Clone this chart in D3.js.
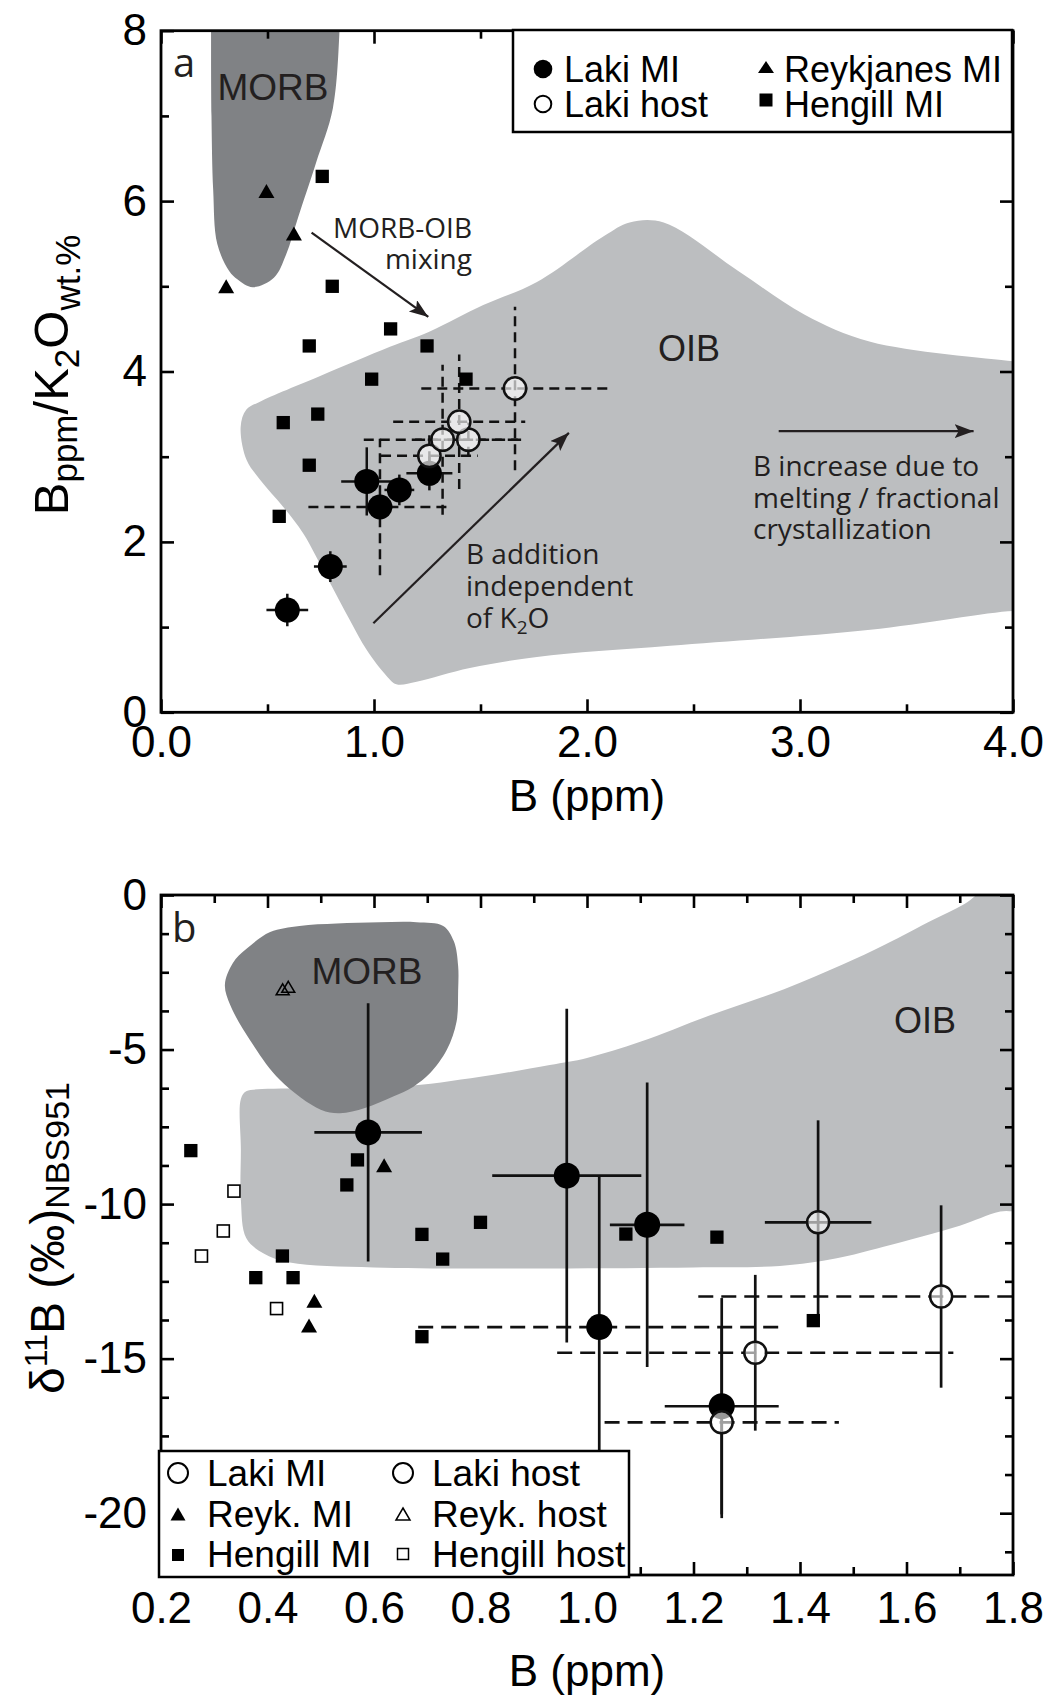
<!DOCTYPE html>
<html>
<head>
<meta charset="utf-8">
<script src="https://cdn.jsdelivr.net/npm/d3@7"></script>
<style>
  body { margin: 0; background: #fff; }
  svg { display: block; }
</style>
</head>
<body>
<svg id="fig" width="1057" height="1699"></svg>
<script>
// ---------- Panel a: B (ppm) vs B/K2O ----------
const morbFieldA = [[0.235,8.3],[0.84,8.3],[0.838,8.0],[0.807,7.09],[0.728,6.45],[0.644,5.81],[0.587,5.37],[0.53,5.1],[0.43,4.99],[0.36,5.08],[0.32,5.18],[0.264,5.5],[0.245,6.13],[0.237,7.0],[0.235,8.0]];
const oibFieldA = [[0.40,3.55],[0.46,3.64],[0.75,3.95],[1.075,4.29],[1.262,4.47],[1.513,4.78],[1.765,5.05],[2.08,5.59],[2.2,5.75],[2.36,5.75],[2.71,5.18],[3.02,4.67],[3.33,4.35],[4.0,4.12],[4.08,4.1],[4.08,1.18],[4.0,1.19],[3.33,0.97],[2.39,0.78],[1.765,0.65],[1.45,0.52],[1.2,0.36],[1.105,0.33],[1.058,0.43],[0.966,0.73],[0.887,1.08],[0.778,1.59],[0.668,2.1],[0.574,2.41],[0.465,2.73],[0.402,2.96],[0.374,3.35]];

// ex/ey: solid uncertainty; exd/eyd: dashed uncertainty
const lakiMIA = [
  {x:0.593, y:1.20, ex:0.098, ey:0.19},
  {x:0.795, y:1.71, ex:0.077, ey:0.18},
  {x:0.966, y:2.71, ex:0.12,  ey:0.40},
  {x:1.028, y:2.41, exd:0.336, eyd:0.80},
  {x:1.119, y:2.61, ex:0.07,  ey:0.18},
  {x:1.26,  y:2.805, ex:0.108, ey:0.20}
];
const lakiHostA = [
  {x:1.26,  y:3.01, exd:0.227, eyd:0.25},
  {x:1.322, y:3.20, exd:0.37,  eyd:0.88},
  {x:1.443, y:3.20, exd:0.25,  eyd:0.20},
  {x:1.40,  y:3.41, exd:0.31,  eyd:0.79},
  {x:1.662, y:3.80, exd:0.44,  eyd:0.96}
];
const reykMIA = [[0.495,6.12],[0.624,5.62],[0.306,5.0]];
const hengillMIA = [[0.757,6.29],[0.804,5.0],[1.078,4.50],[0.696,4.30],[1.249,4.30],[0.989,3.91],[1.432,3.91],[0.736,3.50],[0.574,3.40],[0.696,2.90],[0.555,2.30]];

const xTicksA = [0, 1, 2, 3, 4];
const xMinorA = [0.5, 1.5, 2.5, 3.5];
const yTicksA = [0, 2, 4, 6, 8];
const yMinorA = [1, 3, 5, 7];

// ---------- Panel b: B (ppm) vs δ11B ----------
const morbFieldB = [[0.32,-2.9],[0.335,-2.2],[0.36,-1.75],[0.405,-1.2],[0.46,-1.0],[0.53,-0.92],[0.61,-0.88],[0.68,-0.88],[0.73,-1.0],[0.75,-1.5],[0.758,-2.3],[0.758,-3.1],[0.755,-4.1],[0.737,-5.0],[0.705,-5.77],[0.674,-6.2],[0.636,-6.52],[0.583,-6.89],[0.536,-7.06],[0.5,-6.95],[0.423,-5.98],[0.367,-4.69],[0.33,-3.56]];
const oibFieldB = [[0.35,-6.6],[0.36,-6.35],[0.39,-6.28],[0.5,-6.25],[0.65,-6.2],[0.8,-5.88],[0.93,-5.5],[1.0,-5.27],[1.1,-4.75],[1.23,-3.9],[1.37,-3.05],[1.48,-2.25],[1.56,-1.6],[1.65,-0.8],[1.708,-0.3],[1.76,0.3],[1.85,0.3],[1.85,-10.1],[1.776,-10.24],[1.7,-10.7],[1.557,-11.38],[1.469,-11.75],[1.362,-12.0],[1.2,-12.05],[0.931,-12.08],[0.6,-12.05],[0.442,-11.89],[0.392,-11.59],[0.36,-11.1],[0.35,-9.87],[0.35,-8.25]];

const lakiMIB = [
  {x:0.589, y:-7.68,  ex:0.101, ey:4.18},
  {x:0.962, y:-9.08,  ex:0.14,  ey:5.4},
  {x:1.023, y:-13.98, exd:0.34, ey:4.9},
  {x:1.113, y:-10.67, ex:0.07,  ey:4.6},
  {x:1.253, y:-16.54, ex:0.107, ey:3.5}
];
const lakiHostB = [
  {x:1.434, y:-10.59, ex:0.1,    ey:3.3},
  {x:1.665, y:-12.99, exd:0.456, ey:2.95},
  {x:1.316, y:-14.81, exd:0.372, ey:2.52},
  {x:1.253, y:-17.06, exd:0.22,  ey:3.1}
];
const reykMIB = [[0.619,-8.74],[0.488,-13.13],[0.478,-13.93]];
const reykHostB = [[0.4285,-3.05],[0.439,-2.97]];
const hengillMIB = [[0.256,-8.27],[0.569,-8.57],[0.549,-9.38],[0.690,-10.98],[0.800,-10.59],[0.729,-11.78],[0.428,-11.68],[0.378,-12.38],[0.448,-12.38],[0.690,-14.29],[1.073,-10.97],[1.244,-11.07],[1.425,-13.77]];
const hengillHostB = [[0.337,-9.58],[0.317,-10.87],[0.276,-11.68],[0.417,-13.38]];

const xTicksB = [0.2, 0.4, 0.6, 0.8, 1.0, 1.2, 1.4, 1.6, 1.8];
const xMinorB = [0.3, 0.5, 0.7, 0.9, 1.1, 1.3, 1.5, 1.7];
const yTicksB = [0, -5, -10, -15, -20];
const yMinorB = [-1.25,-2.5,-3.75,-6.25,-7.5,-8.75,-11.25,-12.5,-13.75,-16.25,-17.5,-18.75,-21.25];

// ---------- drawing ----------
const svg = d3.select("#fig");
const FONT = "'Liberation Sans', Arial, Helvetica, sans-serif";
const NOTE = "'Open Sans', 'Noto Sans', sans-serif";
const INK = "#231f20";
const OIB_FILL = "#bcbec0";
const MORB_FILL = "#808285";

const frameA = {left:161, right:1013, top:30.7, bottom:712.3};
const frameB = {left:161, right:1013, top:895, bottom:1575};

const xA = d3.scaleLinear().domain([0, 4]).range([frameA.left, frameA.right]);
const yA = d3.scaleLinear().domain([0, 8]).range([frameA.bottom, frameA.top]);
const xB = d3.scaleLinear().domain([0.2, 1.8]).range([frameB.left, frameB.right]);
const yB = d3.scaleLinear().domain([-22, 0]).range([frameB.bottom, frameB.top]);

const defs = svg.append("defs");
[["clipA", frameA], ["clipB", frameB]].forEach(([id, f]) => {
  defs.append("clipPath").attr("id", id).append("rect")
    .attr("x", f.left).attr("y", f.top)
    .attr("width", f.right - f.left).attr("height", f.bottom - f.top);
});
defs.append("marker").attr("id", "head")
  .attr("markerUnits", "userSpaceOnUse")
  .attr("markerWidth", 20).attr("markerHeight", 16)
  .attr("refX", 19).attr("refY", 7).attr("orient", "auto")
  .append("path").attr("d", "M0,0 L19,7 L0,14 L4,7 Z").attr("fill", INK);

function field(g, pts, x, y, fill) {
  g.append("path")
    .attr("d", d3.line().x(d => x(d[0])).y(d => y(d[1])).curve(d3.curveCatmullRomClosed.alpha(0.5))(pts))
    .attr("fill", fill);
}

function errorBars(g, pts, x, y, w, dash) {
  pts.forEach(p => {
    const seg = (x1, y1, x2, y2, dashed) => g.append("line")
      .attr("x1", x1).attr("y1", y1).attr("x2", x2).attr("y2", y2)
      .attr("stroke", "#111").attr("stroke-width", w)
      .attr("stroke-dasharray", dashed ? dash : null);
    if (p.ex)  seg(x(p.x - p.ex),  y(p.y), x(p.x + p.ex),  y(p.y), false);
    if (p.ey)  seg(x(p.x), y(p.y - p.ey),  x(p.x), y(p.y + p.ey),  false);
    if (p.exd) seg(x(p.x - p.exd), y(p.y), x(p.x + p.exd), y(p.y), true);
    if (p.eyd) seg(x(p.x), y(p.y - p.eyd), x(p.x), y(p.y + p.eyd), true);
  });
}

function triPath(cx, cy, w, h) {
  return `M${cx},${cy - h / 2}L${cx + w / 2},${cy + h / 2}L${cx - w / 2},${cy + h / 2}Z`;
}

function marker(g, type, cx, cy, o) {
  if (type === "circle") {
    g.append("circle").attr("cx", cx).attr("cy", cy).attr("r", o.r)
      .attr("fill", o.fill).attr("fill-opacity", o.fo == null ? 1 : o.fo)
      .attr("stroke", o.stroke || "none").attr("stroke-width", o.sw || 0);
  } else if (type === "square") {
    g.append("rect").attr("x", cx - o.s / 2).attr("y", cy - o.s / 2)
      .attr("width", o.s).attr("height", o.s)
      .attr("fill", o.fill).attr("stroke", o.stroke || "none").attr("stroke-width", o.sw || 0);
  } else {
    g.append("path").attr("d", triPath(cx, cy, o.w, o.h))
      .attr("fill", o.fill).attr("stroke", o.stroke || "none").attr("stroke-width", o.sw || 0)
      .attr("stroke-linejoin", "miter");
  }
}

function axes(f, x, y, cfg) {
  const g = svg.append("g");
  const styleAxis = sel => {
    sel.select(".domain").remove();
    sel.selectAll(".tick line").attr("stroke", "#000").attr("stroke-width", 2.6);
    sel.selectAll(".tick text").attr("fill", "#000").attr("font-family", FONT).attr("font-size", 44);
  };
  // major ticks with labels (bottom, left), mirrored ticks (top, right); all point inward
  g.append("g").attr("transform", `translate(0,${f.bottom})`)
    .call(d3.axisBottom(x).tickValues(cfg.xMajor).tickFormat(cfg.xFmt).tickSize(-13).tickPadding(cfg.xPad)).call(styleAxis);
  g.append("g").attr("transform", `translate(0,${f.bottom})`)
    .call(d3.axisBottom(x).tickValues(cfg.xMinor).tickFormat("").tickSize(-8)).call(styleAxis);
  g.append("g").attr("transform", `translate(0,${f.top})`)
    .call(d3.axisTop(x).tickValues(cfg.xMajor).tickFormat("").tickSize(-13)).call(styleAxis);
  g.append("g").attr("transform", `translate(0,${f.top})`)
    .call(d3.axisTop(x).tickValues(cfg.xMinor).tickFormat("").tickSize(-8)).call(styleAxis);
  g.append("g").attr("transform", `translate(${f.left},0)`)
    .call(d3.axisLeft(y).tickValues(cfg.yMajor).tickFormat(cfg.yFmt).tickSize(-13).tickPadding(14)).call(styleAxis);
  g.append("g").attr("transform", `translate(${f.left},0)`)
    .call(d3.axisLeft(y).tickValues(cfg.yMinor).tickFormat("").tickSize(-8)).call(styleAxis);
  g.append("g").attr("transform", `translate(${f.right},0)`)
    .call(d3.axisRight(y).tickValues(cfg.yMajor).tickFormat("").tickSize(-13)).call(styleAxis);
  g.append("g").attr("transform", `translate(${f.right},0)`)
    .call(d3.axisRight(y).tickValues(cfg.yMinor).tickFormat("").tickSize(-8)).call(styleAxis);
  g.append("rect").attr("x", f.left).attr("y", f.top)
    .attr("width", f.right - f.left).attr("height", f.bottom - f.top)
    .attr("fill", "none").attr("stroke", "#000").attr("stroke-width", 2.8);
}

function text(g, x, y, str, o) {
  return g.append("text").attr("x", x).attr("y", y).text(str)
    .attr("font-family", o.font || FONT).attr("font-size", o.size)
    .attr("fill", o.fill || INK).attr("text-anchor", o.anchor || "start");
}

// ================= Panel a =================
const gA = svg.append("g").attr("clip-path", "url(#clipA)");
field(gA, oibFieldA, xA, yA, OIB_FILL);
field(gA, morbFieldA, xA, yA, MORB_FILL);

text(gA, 273, 100, "MORB", {size: 37, anchor: "middle"});
text(gA, 689, 361, "OIB", {size: 36, anchor: "middle"});
text(svg, 173, 77, "a", {size: 40, font: NOTE});

// annotation arrows
const arrowsA = [
  [[0.707, 5.63], [1.255, 4.64]],
  [[0.997, 1.045], [1.915, 3.28]],
  [[2.9, 3.30], [3.815, 3.30]]
];
arrowsA.forEach(([a, b]) => gA.append("line")
  .attr("x1", xA(a[0])).attr("y1", yA(a[1])).attr("x2", xA(b[0])).attr("y2", yA(b[1]))
  .attr("stroke", INK).attr("stroke-width", 2.2).attr("marker-end", "url(#head)"));

text(gA, 472, 238, "MORB-OIB", {size: 28, font: NOTE, anchor: "end"});
text(gA, 472, 269, "mixing", {size: 28, font: NOTE, anchor: "end"});
text(gA, 466, 564, "B addition", {size: 28, font: NOTE});
text(gA, 466, 596, "independent", {size: 28, font: NOTE});
const k2o = text(gA, 466, 628, "of K", {size: 28, font: NOTE});
k2o.append("tspan").attr("font-size", 19).attr("dy", 6).text("2");
k2o.append("tspan").attr("dy", -6).text("O");
text(gA, 753, 476, "B increase due to", {size: 28, font: NOTE});
text(gA, 753, 508, "melting / fractional", {size: 28, font: NOTE});
text(gA, 753, 539, "crystallization", {size: 28, font: NOTE});

errorBars(gA, lakiMIA, xA, yA, 2.5, "10,6");
errorBars(gA, lakiHostA, xA, yA, 2.5, "10,6");
reykMIA.forEach(d => marker(gA, "tri", xA(d[0]), yA(d[1]), {w: 16, h: 14, fill: "#000"}));
hengillMIA.forEach(d => marker(gA, "square", xA(d[0]), yA(d[1]), {s: 13.3, fill: "#000"}));
lakiMIA.forEach(d => marker(gA, "circle", xA(d.x), yA(d.y), {r: 12.5, fill: "#000"}));
lakiHostA.forEach(d => marker(gA, "circle", xA(d.x), yA(d.y), {r: 11.2, fill: "#fff", fo: 0.65, stroke: "#111", sw: 2.5}));

axes(frameA, xA, yA, {
  xMajor: xTicksA, xMinor: xMinorA, yMajor: yTicksA, yMinor: yMinorA,
  xFmt: d3.format(".1f"), yFmt: d => String(d), xPad: 13
});

// legend a
const lgA = svg.append("g");
lgA.append("rect").attr("x", 513).attr("y", 30).attr("width", 499).attr("height", 102)
  .attr("fill", "#fff").attr("stroke", "#000").attr("stroke-width", 2.5);
marker(lgA, "circle", 543, 69, {r: 9.3, fill: "#000"});
marker(lgA, "circle", 543, 104, {r: 8.3, fill: "#fff", stroke: "#000", sw: 2});
marker(lgA, "tri", 766, 67, {w: 16, h: 12, fill: "#000"});
marker(lgA, "square", 766, 100, {s: 13, fill: "#000"});
text(lgA, 564, 82, "Laki MI", {size: 36, fill: "#000"});
text(lgA, 564, 117, "Laki host", {size: 36, fill: "#000"});
text(lgA, 784, 82, "Reykjanes MI", {size: 36, fill: "#000"});
text(lgA, 784, 117, "Hengill MI", {size: 36, fill: "#000"});

// axis titles a
text(svg, 587, 811, "B (ppm)", {size: 44, fill: "#000", anchor: "middle"});
const ytA = svg.append("text").attr("transform", "translate(68,375) rotate(-90)")
  .attr("text-anchor", "middle").attr("font-family", FONT).attr("font-size", 49).attr("fill", "#000");
ytA.append("tspan").text("B");
ytA.append("tspan").attr("font-size", 35).attr("dy", 9).text("ppm");
ytA.append("tspan").attr("dy", -9).text("/K");
ytA.append("tspan").attr("font-size", 35).attr("dy", 11).text("2");
ytA.append("tspan").attr("dy", -11).text("O");
ytA.append("tspan").attr("font-size", 35).attr("dy", 12).text("wt.%");

// ================= Panel b =================
const gB = svg.append("g").attr("clip-path", "url(#clipB)");
field(gB, oibFieldB, xB, yB, OIB_FILL);
field(gB, morbFieldB, xB, yB, MORB_FILL);
text(gB, 367, 984, "MORB", {size: 37, anchor: "middle"});
text(gB, 925, 1033, "OIB", {size: 36, anchor: "middle"});
text(svg, 172, 942, "b", {size: 40, font: NOTE});

errorBars(gB, lakiMIB, xB, yB, 2.7, "15,8");
errorBars(gB, lakiHostB, xB, yB, 2.7, "15,8");
reykHostB.forEach(d => marker(gB, "tri", xB(d[0]), yB(d[1]), {w: 13, h: 11, fill: "none", stroke: "#000", sw: 1.5}));
reykMIB.forEach(d => marker(gB, "tri", xB(d[0]), yB(d[1]), {w: 16, h: 14, fill: "#000"}));
hengillHostB.forEach(d => marker(gB, "square", xB(d[0]), yB(d[1]), {s: 12, fill: "#fff", stroke: "#000", sw: 1.6}));
hengillMIB.forEach(d => marker(gB, "square", xB(d[0]), yB(d[1]), {s: 13.3, fill: "#000"}));
lakiMIB.forEach(d => marker(gB, "circle", xB(d.x), yB(d.y), {r: 13, fill: "#000"}));
lakiHostB.forEach(d => marker(gB, "circle", xB(d.x), yB(d.y), {r: 11, fill: "#fff", fo: 0.6, stroke: "#111", sw: 2.5}));

axes(frameB, xB, yB, {
  xMajor: xTicksB, xMinor: xMinorB, yMajor: yTicksB, yMinor: yMinorB,
  xFmt: d3.format(".1f"), yFmt: d => String(d), xPad: 17
});

// legend b
const lgB = svg.append("g");
lgB.append("rect").attr("x", 159).attr("y", 1451).attr("width", 470).attr("height", 126)
  .attr("fill", "#fff").attr("stroke", "#000").attr("stroke-width", 2.5);
marker(lgB, "circle", 178, 1473, {r: 10, fill: "#fff", stroke: "#000", sw: 2});
marker(lgB, "tri", 178, 1514, {w: 15, h: 13, fill: "#000"});
marker(lgB, "square", 178, 1555, {s: 12, fill: "#000"});
marker(lgB, "circle", 403, 1473, {r: 10, fill: "#fff", stroke: "#000", sw: 2});
marker(lgB, "tri", 403, 1514, {w: 14, h: 12, fill: "#fff", stroke: "#000", sw: 1.5});
marker(lgB, "square", 403, 1554, {s: 11, fill: "#fff", stroke: "#000", sw: 1.5});
text(lgB, 207, 1486, "Laki MI", {size: 37, fill: "#000"});
text(lgB, 207, 1527, "Reyk. MI", {size: 37, fill: "#000"});
text(lgB, 207, 1567, "Hengill MI", {size: 37, fill: "#000"});
text(lgB, 432, 1486, "Laki host", {size: 37, fill: "#000"});
text(lgB, 432, 1527, "Reyk. host", {size: 37, fill: "#000"});
text(lgB, 432, 1567, "Hengill host", {size: 37, fill: "#000"});

// axis titles b
text(svg, 587, 1686, "B (ppm)", {size: 44, fill: "#000", anchor: "middle"});
const ytB = svg.append("text").attr("transform", "translate(64,1238) rotate(-90)")
  .attr("text-anchor", "middle").attr("font-family", FONT).attr("font-size", 48).attr("fill", "#000");
ytB.append("tspan").text("δ");
ytB.append("tspan").attr("font-size", 32).attr("dy", -17).text("11");
ytB.append("tspan").attr("dy", 17).text("B (‰)");
ytB.append("tspan").attr("font-size", 34).attr("dy", 5).text("NBS951");
</script>
</body>
</html>
